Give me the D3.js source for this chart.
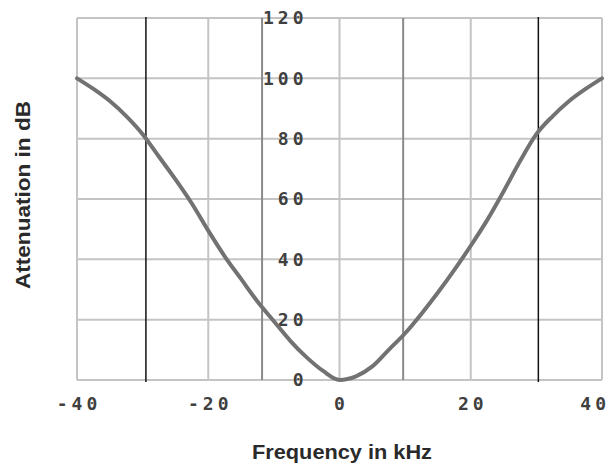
<!DOCTYPE html>
<html lang="en">
<head>
  <meta charset="UTF-8">
  <title>Attenuation vs Frequency</title>
  <script src="https://d3js.org/d3.v7.min.js"></script>
  <style>
    body {
      margin: 0;
      background: #fff;
    }
    .tick-label {
      font-family: "DejaVu Sans Mono", monospace;
      font-size: 18px;
      font-weight: bold;
      letter-spacing: 4px;
      fill: #404040;
    }
    .axis-title {
      font-family: "Liberation Sans", Arial, sans-serif;
      font-weight: bold;
      font-size: 20px;
      fill: #2a2a2a;
    }
  </style>
</head>
<body>
  <div id="chart"></div>

  <script>
    // Frequency (kHz) and attenuation (dB)
    const frequency = [-40, -37.5, -35, -32.5, -30, -27.5, -25, -22.5, -20, -17.5, -15, -12.5, -10, -7.5, -5, -2.5,
                       0, 2.5, 5, 7.5, 10, 12.5, 15, 17.5, 20, 22.5, 25, 27.5, 30, 32.5, 35, 37.5, 40];
    const attenuation = [100, 96.5, 92.5, 87.5, 81.5, 74, 66.5, 58.5, 49.5, 41, 33.5, 26, 19.5, 13, 7.5, 3,
                         0, 1.2, 4.5, 10, 15.5, 22, 29, 36.5, 44.5, 53, 62.5, 72.5, 81.5, 87.5, 92.5, 96.5, 100];

    const xTicks = [-40, -20, 0, 20, 40];
    const yTicks = [0, 20, 40, 60, 80, 100, 120];
    // extra vertical marker lines drawn over the grid
    const blackMarkers = [-29.5, 30.3];
    const grayMarkers = [-11.8, 9.7];

    const width = 613, height = 470;
    const margin = { top: 18, right: 11, bottom: 90, left: 77 };
    const innerW = width - margin.left - margin.right;
    const innerH = height - margin.top - margin.bottom;

    const svg = d3.select("#chart")
      .append("svg")
      .attr("width", width)
      .attr("height", height);

    const g = svg.append("g")
      .attr("transform", `translate(${margin.left},${margin.top})`);

    const x = d3.scaleLinear().domain([-40, 40]).range([0, innerW]);
    const y = d3.scaleLinear().domain([0, 120]).range([innerH, 0]);

    // grid
    g.selectAll(".hgrid")
      .data(yTicks)
      .enter().append("line")
      .attr("x1", 0).attr("x2", innerW)
      .attr("y1", d => y(d)).attr("y2", d => y(d))
      .attr("stroke", "#c4c4c4")
      .attr("stroke-width", 2);

    g.selectAll(".vgrid")
      .data(xTicks)
      .enter().append("line")
      .attr("x1", d => x(d)).attr("x2", d => x(d))
      .attr("y1", 0).attr("y2", innerH)
      .attr("stroke", "#c4c4c4")
      .attr("stroke-width", 2);

    g.selectAll(".gray-marker")
      .data(grayMarkers)
      .enter().append("line")
      .attr("x1", d => x(d)).attr("x2", d => x(d))
      .attr("y1", 0).attr("y2", innerH)
      .attr("stroke", "#8a8a8a")
      .attr("stroke-width", 2);

    g.selectAll(".black-marker")
      .data(blackMarkers)
      .enter().append("line")
      .attr("x1", d => x(d)).attr("x2", d => x(d))
      .attr("y1", -1).attr("y2", innerH + 2)
      .attr("stroke", "#111")
      .attr("stroke-width", 1.5);

    // y tick labels sit to the left of the zero line
    g.selectAll(".ylab")
      .data(yTicks)
      .enter().append("text")
      .attr("class", "tick-label")
      .attr("x", x(0) - 32)
      .attr("y", d => y(d))
      .attr("dy", "0.36em")
      .attr("text-anchor", "end")
      .text(d => d);

    // last label is pushed in so it stays inside the picture
    g.selectAll(".xlab")
      .data(xTicks)
      .enter().append("text")
      .attr("class", "tick-label")
      .attr("x", (d, i) => i === xTicks.length - 1 ? innerW + margin.right - 3 : x(d) + 2)
      .attr("y", innerH + 30)
      .attr("text-anchor", (d, i) => i === xTicks.length - 1 ? "end" : "middle")
      .text(d => d);

    // curve
    const points = frequency.map((f, i) => [f, attenuation[i]]);
    const line = d3.line()
      .x(d => x(d[0]))
      .y(d => y(d[1]))
      .curve(d3.curveMonotoneX);

    g.append("path")
      .datum(points)
      .attr("fill", "none")
      .attr("stroke", "#727272")
      .attr("stroke-width", 4)
      .attr("stroke-linecap", "round")
      .attr("d", line);

    // axis titles
    svg.append("text")
      .attr("class", "axis-title")
      .attr("x", 342)
      .attr("y", 459)
      .attr("text-anchor", "middle")
      .attr("textLength", 180)
      .attr("lengthAdjust", "spacingAndGlyphs")
      .text("Frequency in kHz");

    svg.append("text")
      .attr("class", "axis-title")
      .attr("transform", "translate(30,195) rotate(-90)")
      .attr("text-anchor", "middle")
      .attr("textLength", 188)
      .attr("lengthAdjust", "spacingAndGlyphs")
      .text("Attenuation in dB");
  </script>
</body>
</html>
